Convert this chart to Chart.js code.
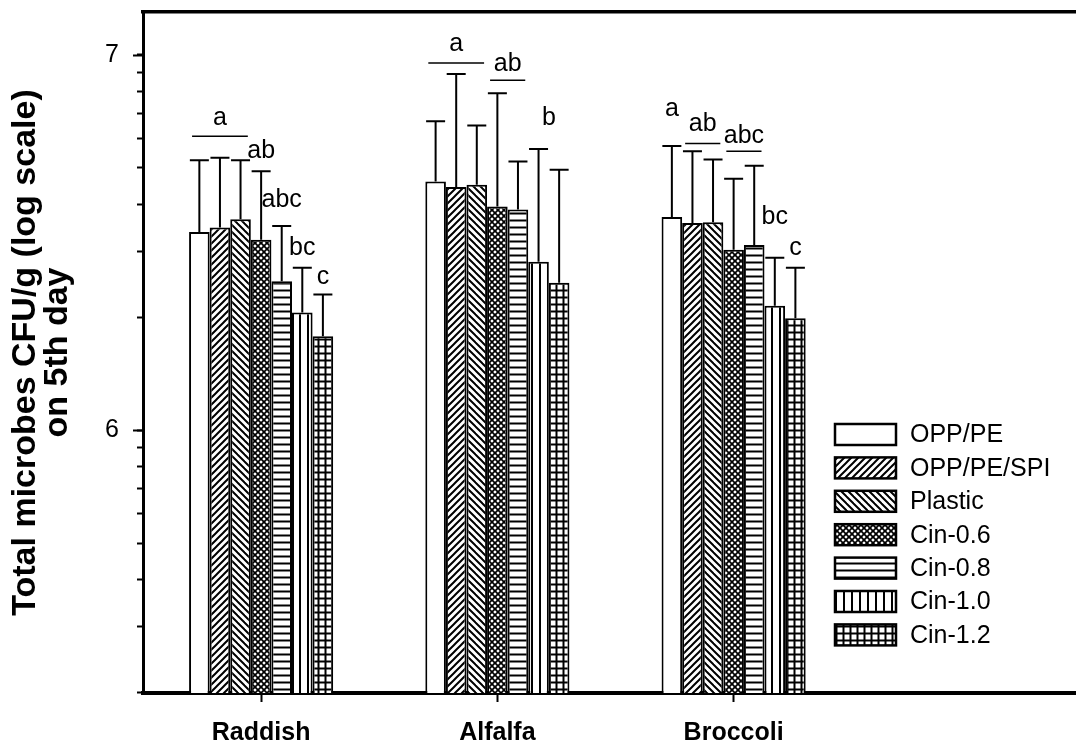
<!DOCTYPE html>
<html>
<head>
<meta charset="utf-8">
<script src="https://cdn.jsdelivr.net/npm/chart.js@4.4.1/dist/chart.umd.min.js"></script>
<style>
  html, body { margin: 0; padding: 0; background: #fff; overflow: hidden; }
  canvas { display: block; }
</style>
</head>
<body>
<!-- the plot runs a little past the right edge of the window, as in the figure -->
<canvas id="chart" width="1088" height="745"></canvas>
<script>
// sprouts, log CFU/g on day 5
const categories = ["Raddish", "Alfalfa", "Broccoli"];
const seriesNames = ["OPP/PE", "OPP/PE/SPI", "Plastic", "Cin-0.6", "Cin-0.8", "Cin-1.0", "Cin-1.2"];

const oppPe      = [6.528, 6.663, 6.568];
const oppPeSpi   = [6.540, 6.648, 6.552];
const plastic    = [6.562, 6.654, 6.554];
const cin06      = [6.508, 6.596, 6.481];
const cin08      = [6.397, 6.588, 6.494];
const cin10      = [6.314, 6.449, 6.332];
const cin12      = [6.251, 6.393, 6.299];

// upper error bar (SD)
const oppPeErr    = [0.191, 0.160, 0.189];
const oppPeSpiErr = [0.186, 0.301, 0.191];
const plasticErr  = [0.157, 0.158, 0.167];
const cin06Err    = [0.182, 0.302, 0.189];
const cin08Err    = [0.147, 0.128, 0.211];
const cin10Err    = [0.119, 0.300, 0.128];
const cin12Err    = [0.111, 0.301, 0.134];

// significance letters: category, first bar, last bar, text, baseline (log units), optional bar line
const sigLetters = [
  { cat: 0, from: 0, to: 2, text: "a",   y: 6.812, line: 6.783 },
  { cat: 0, from: 3, to: 3, text: "ab",  y: 6.726 },
  { cat: 0, from: 4, to: 4, text: "abc", y: 6.596 },
  { cat: 0, from: 5, to: 5, text: "bc",  y: 6.468 },
  { cat: 0, from: 6, to: 6, text: "c",   y: 6.389 },
  { cat: 1, from: 0, to: 2, text: "a",   y: 7.009, line: 6.978 },
  { cat: 1, from: 3, to: 4, text: "ab",  y: 6.958, line: 6.932 },
  { cat: 1, from: 5, to: 6, text: "b",   y: 6.812 },
  { cat: 2, from: 0, to: 0, text: "a",   y: 6.838 },
  { cat: 2, from: 1, to: 2, text: "ab",  y: 6.796, line: 6.764 },
  { cat: 2, from: 3, to: 4, text: "abc", y: 6.766, line: 6.743 },
  { cat: 2, from: 5, to: 5, text: "bc",  y: 6.550 },
  { cat: 2, from: 6, to: 6, text: "c",   y: 6.466 },
];

const yMin = 5.301;   // 2 x 10^5
const yMax = 7.114;
const yLabels = [6, 7];

const FONT = "'Liberation Sans', Arial, Helvetica, sans-serif";

function makePattern(kind) {
  const s = kind === "cross" ? 6 : (kind === "vert" ? 8 : 7);
  const c = document.createElement("canvas");
  c.width = s; c.height = s;
  const g = c.getContext("2d");
  g.fillStyle = "#fff";
  g.fillRect(0, 0, s, s);
  g.strokeStyle = "#000";
  g.lineWidth = kind === "cross" ? 1.7 : 2;
  g.lineCap = "square";
  const line = (x1, y1, x2, y2) => { g.beginPath(); g.moveTo(x1, y1); g.lineTo(x2, y2); g.stroke(); };
  if (kind === "fwd" || kind === "cross") {
    line(-1, s + 1, s + 1, -1);
    line(-1, 1, 1, -1);
    line(s - 1, s + 1, s + 1, s - 1);
  }
  if (kind === "back" || kind === "cross") {
    line(-1, -1, s + 1, s + 1);
    line(s - 1, -1, s + 1, 1);
    line(-1, s - 1, 1, s + 1);
  }
  if (kind === "horiz" || kind === "grid") line(0, s / 2, s, s / 2);
  if (kind === "vert" || kind === "grid") line(s / 2, 0, s / 2, s);
  return g.createPattern(c, "repeat");
}

const fills = [
  "#ffffff",
  makePattern("fwd"),
  makePattern("back"),
  makePattern("cross"),
  makePattern("horiz"),
  makePattern("vert"),
  makePattern("grid"),
];
const values = [oppPe, oppPeSpi, plastic, cin06, cin08, cin10, cin12];
const errors = [oppPeErr, oppPeSpiErr, plasticErr, cin06Err, cin08Err, cin10Err, cin12Err];

// minor ticks of a log axis, written in log units
const yTickValues = [];
[5, 6].forEach(e => {
  for (let k = 1; k <= 9; k++) {
    const v = e + Math.log10(k);
    if (v >= yMin && v <= yMax) yTickValues.push(v);
  }
});
yTickValues.push(7);

const noPad = s => { s.paddingTop = 0; s.paddingBottom = 0; s.paddingLeft = 0; s.paddingRight = 0; };

const overlay = {
  id: "overlay",
  afterDatasetsDraw(chart) {
    const ctx = chart.ctx;
    const y = chart.scales.y;
    ctx.save();
    ctx.strokeStyle = "#000";
    ctx.lineWidth = 2;
    // error bars, upward only
    chart.data.datasets.forEach((ds, i) => {
      chart.getDatasetMeta(i).data.forEach((el, j) => {
        const top = y.getPixelForValue(values[i][j] + errors[i][j]);
        const half = 9.5;
        ctx.beginPath();
        ctx.moveTo(el.x, el.y);
        ctx.lineTo(el.x, top);
        ctx.moveTo(el.x - half, top);
        ctx.lineTo(el.x + half, top);
        ctx.stroke();
      });
    });
    // letters
    ctx.fillStyle = "#000";
    ctx.font = "25px " + FONT;
    ctx.textAlign = "center";
    ctx.textBaseline = "alphabetic";
    ctx.lineWidth = 1.5;
    sigLetters.forEach(s => {
      const a = chart.getDatasetMeta(s.from).data[s.cat];
      const b = chart.getDatasetMeta(s.to).data[s.cat];
      const cx = (a.x + b.x) / 2;
      ctx.fillText(s.text, cx, y.getPixelForValue(s.y));
      if (s.line !== undefined) {
        const ly = y.getPixelForValue(s.line);
        ctx.beginPath();
        ctx.moveTo(a.x - a.width / 2 + 3, ly);
        ctx.lineTo(b.x + b.width / 2 - 3, ly);
        ctx.stroke();
      }
    });
    ctx.restore();
  },
  afterDraw(chart) {
    const ctx = chart.ctx;
    const y = chart.scales.y;
    const area = chart.chartArea;
    ctx.save();
    // longer major ticks
    ctx.strokeStyle = "#000";
    ctx.lineWidth = 2;
    yLabels.forEach(v => {
      const py = Math.round(y.getPixelForValue(v)) + 0.5;
      ctx.beginPath();
      ctx.moveTo(area.left - 10, py);
      ctx.lineTo(area.left, py);
      ctx.stroke();
    });
    // legend inside plot
    const lx = 835, ly = 424, bw = 61, bh = 21, gap = 33.4;
    ctx.font = "25px " + FONT;
    ctx.textAlign = "left";
    ctx.textBaseline = "middle";
    chart.data.datasets.forEach((ds, i) => {
      const top = ly + i * gap;
      ctx.fillStyle = ds.backgroundColor;
      ctx.fillRect(lx, top, bw, bh);
      ctx.lineWidth = 2.5;
      ctx.strokeRect(lx, top, bw, bh);
      ctx.fillStyle = "#000";
      ctx.fillText(ds.label, lx + bw + 14, top + bh / 2 + 1);
    });
    ctx.restore();
  }
};

new Chart(document.getElementById("chart"), {
  type: "bar",
  data: {
    labels: [...categories, ""],
    datasets: seriesNames.map((name, i) => ({
      label: name,
      data: values[i],
      backgroundColor: fills[i],
      borderColor: "#000",
      borderWidth: 2,
      categoryPercentage: 0.61,
      barPercentage: 1.0,
    })),
  },
  options: {
    responsive: false,
    animation: false,
    events: [],
    layout: { padding: { left: 0, right: 0, top: 12, bottom: 0 } },
    plugins: {
      legend: { display: false },
      tooltip: { enabled: false },
    },
    scales: {
      x: {
        position: "bottom",
        grid: {
          offset: false,
          drawOnChartArea: false,
          tickLength: 9,
          tickWidth: 2,
          tickColor: c => (c.index > 2 ? "rgba(0,0,0,0)" : "#000"),
        },
        border: { color: "#000", width: 4 },
        ticks: {
          color: "#000",
          padding: 16,
          maxRotation: 0,
          font: { family: FONT, size: 25, weight: "bold" },
        },
        afterFit: s => { noPad(s); s.height = 52; },
      },
      x2: {
        type: "category",
        position: "top",
        labels: [...categories, ""],
        grid: { display: false, drawTicks: false },
        ticks: { display: false },
        border: { color: "#000", width: 3.5 },
        afterFit: s => { noPad(s); s.height = 0; },
      },
      y: {
        type: "linear",
        min: yMin,
        max: yMax,
        afterBuildTicks: s => { s.ticks = yTickValues.map(v => ({ value: v })); },
        grid: { drawOnChartArea: false, tickLength: 6, tickWidth: 2, tickColor: "#000" },
        border: { color: "#000", width: 3 },
        ticks: {
          autoSkip: false,
          color: "#000",
          padding: 18,
          font: { family: FONT, size: 25 },
          callback: v => (yLabels.some(l => Math.abs(l - v) < 1e-9) ? String(Math.round(v)) : ""),
        },
        title: {
          display: true,
          text: ["Total microbes CFU/g (log scale)", "on 5th day"],
          color: "#000",
          padding: { top: 9, bottom: 0 },
          font: { family: FONT, size: 34, weight: "bold", lineHeight: 0.95 },
        },
        afterFit: s => { noPad(s); s.width = 143; },
      },
    },
  },
  plugins: [overlay],
});
</script>
</body>
</html>
